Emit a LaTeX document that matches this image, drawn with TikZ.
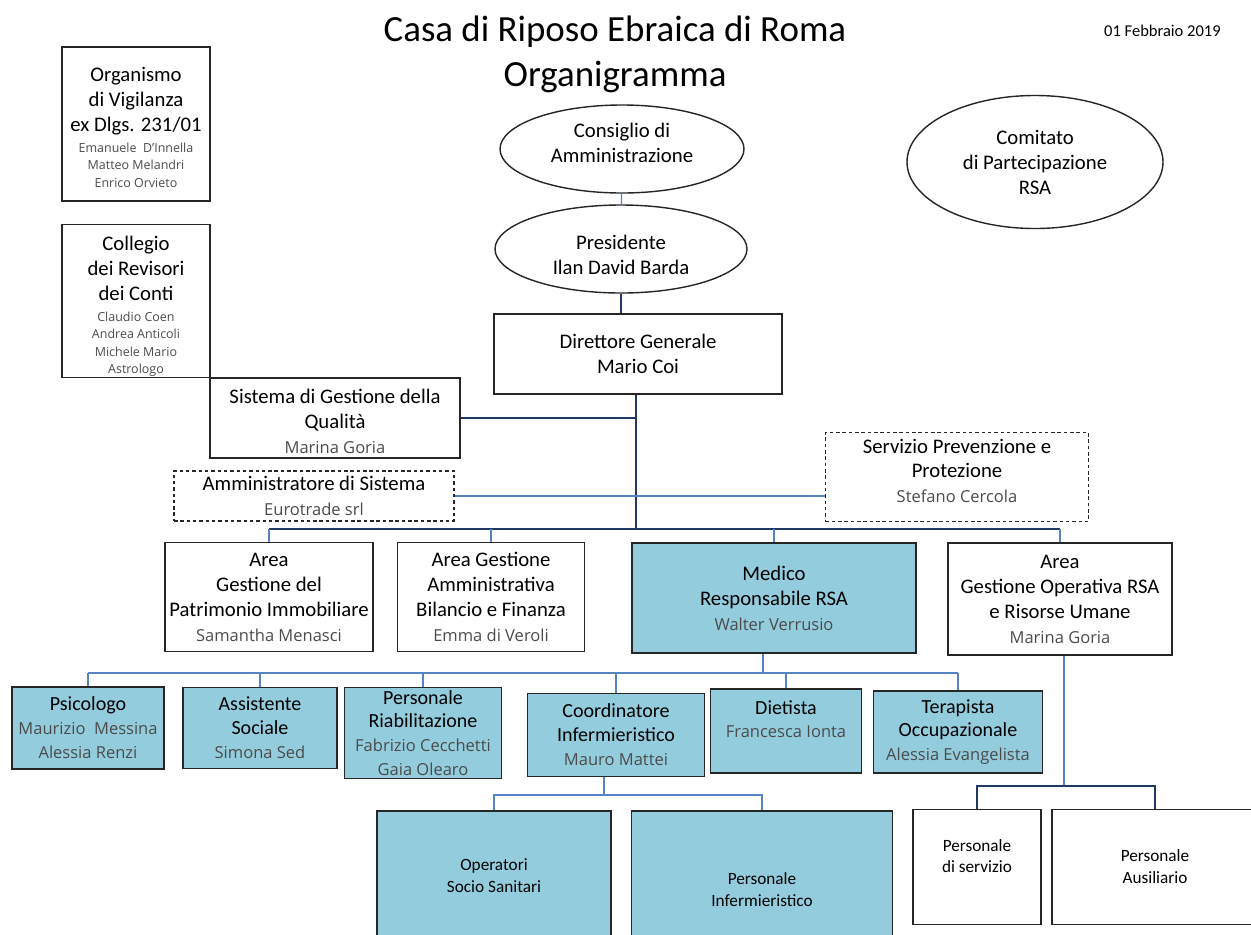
\documentclass[tikz,border=0pt]{standalone}
\usepackage{fontspec}
\setmainfont{Carlito}
\newfontfamily\namefont{Open Sans}
\usetikzlibrary{shapes.geometric, positioning, calc}

\definecolor{staffblue}{RGB}{147,205,221}
\definecolor{linkblue}{RGB}{84,132,196}
\definecolor{linknavy}{RGB}{31,56,100}
\definecolor{namegray}{RGB}{75,75,75}

\newcommand{\pxu}{0.02cm}
\newcommand{\persona}[1]{{\namefont\fontsize{9.4}{13.6}\selectfont\color{namegray}#1}}
\newcommand{\piccolo}[1]{{\namefont\fontsize{7.1}{9.9}\selectfont\color{namegray}#1}}
% vertical nudges for text inside a box
\newcommand{\giu}[1]{\rule{0pt}{#1}}
\newcommand{\su}[1]{\rule[-#1]{0pt}{#1}}

\tikzset{
	dims/.style 2 args={minimum width=#1*\pxu, minimum height=#2*\pxu}
}

\begin{document}
\begin{tikzpicture}[
		x=0.02cm, y=-0.02cm,
		every node/.style={inner sep=0pt, align=center},
		ufficio/.style={draw=black!85, line width=0.8pt, rectangle, font=\fontsize{11.8}{14.2}\selectfont},
		sanitario/.style={ufficio, fill=staffblue, font=\fontsize{11.4}{13.6}\selectfont},
		ovale/.style={ufficio, ellipse},
		esterno/.style={ufficio, dash pattern=on 2pt off 1.6pt},
		collegamento/.style={draw=linkblue, line width=0.7pt},
		tronco/.style={draw=linknavy, line width=0.9pt}
		]
		\useasboundingbox (0,0) rectangle (1251,934);
		
		% Title
		\node[font=\fontsize{21}{25.5}\selectfont] (titolo) at (615,54) {Casa di Riposo Ebraica di Roma\\Organigramma};
		\node[font=\fontsize{9.4}{11}\selectfont, anchor=east] (data) at (1221,31) {01 Febbraio 2019};
		
		% Control bodies
		\node[ufficio, dims={148}{154}] (vigilanza) at (136,124) {\giu{12pt}Organismo\\di Vigilanza\\ex Dlgs. 231/01\\[-2.3pt]\piccolo{Emanuele\ \ D’Innella}\\[-4.3pt]\piccolo{Matteo Melandri}\\[-4.3pt]\piccolo{Enrico Orvieto}};
		\node[ufficio, dims={148}{153}] (revisori) at (136,301) {\giu{14.3pt}Collegio\\dei Revisori\\dei Conti\\[-2.3pt]\piccolo{Claudio Coen}\\[-4.3pt]\piccolo{Andrea Anticoli}\\[-4.3pt]\piccolo{Michele Mario}\\[-4.3pt]\piccolo{Astrologo}};
		
		% Governance
		\node[ovale, dims={244}{88}] (cda) at (622,149) {Consiglio di\\Amministrazione\su{7pt}};
		\node[ovale, dims={252}{88}] (presidente) at (621,249) {\giu{15.4pt}Presidente\\Ilan David Barda};
		\node[ovale, dims={256}{133}] (comitato) at (1035,162) {Comitato\\di Partecipazione\\RSA};
		\node[ufficio, dims={288}{80}] (direttore) at (638,354) {Direttore Generale\\Mario Coi};
		
		% Staff
		\node[ufficio, dims={250}{80}] (qualita) at (335,418) {\giu{12pt}Sistema di Gestione della\\Qualità\\\persona{Marina Goria}};
		\node[esterno, dims={280}{50}] (amministratore) at (314,496) {Amministratore di Sistema\\\persona{Eurotrade srl}};
		\node[esterno, dims={263}{89}] (prevenzione) at (957,477) {Servizio Prevenzione e\\Protezione\\\persona{Stefano Cercola}\su{7pt}};
		
		% Areas
		\node[ufficio, dims={208}{109}] (patrimonio) at (269,597) {Area\\Gestione del\\Patrimonio Immobiliare\\\persona{Samantha Menasci}};
		\node[ufficio, dims={187}{109}] (amministrativa) at (491,597) {Area Gestione\\Amministrativa\\Bilancio e Finanza\\\persona{Emma di Veroli}};
		\node[ufficio, fill=staffblue, dims={284}{110}] (medico) at (774,598) {Medico\\Responsabile RSA\\\persona{Walter Verrusio}};
		\node[ufficio, dims={224}{112}] (operativa) at (1060,599) {Area\\Gestione Operativa RSA\\e Risorse Umane\\\persona{Marina Goria}};
		
		% Health staff
		\node[sanitario, dims={152}{82}] (psicologo) at (88,728) {Psicologo\\\persona{Maurizio\ \ Messina}\\\persona{Alessia Renzi}};
		\node[sanitario, dims={154}{81}] (sociale) at (260,728) {Assistente\\Sociale\\\persona{Simona Sed}};
		\node[sanitario, dims={157}{91}] (riabilitazione) at (423,733) {Personale\\Riabilitazione\\\persona{Fabrizio Cecchetti}\\\persona{Gaia Olearo}};
		\node[sanitario, dims={177}{83}] (coordinatore) at (616,735) {Coordinatore\\Infermieristico\\\persona{Mauro Mattei}};
		\node[sanitario, dims={151}{84}] (dietista) at (786,731) {Dietista\\\persona{Francesca Ionta}\\\mbox{}};
		\node[sanitario, dims={169}{82}] (terapista) at (958,732) {Terapista\\Occupazionale\\\persona{Alessia Evangelista}};
		
		% Bottom row
		\node[sanitario, font=\fontsize{9.8}{12.5}\selectfont, dims={234}{130}] (oss) at (494,876) {Operatori\\Socio Sanitari};
		\node[sanitario, font=\fontsize{9.8}{12.5}\selectfont, dims={261}{158}] (infermieri) at (762,890) {Personale\\Infermieristico};
		\node[ufficio, font=\fontsize{9.8}{12.5}\selectfont, dims={128}{115}] (pservizio) at (977,867) {Personale\\di servizio\\\mbox{}};
		\node[ufficio, font=\fontsize{9.8}{12.5}\selectfont, dims={206}{115}] (ausiliario) at (1155,867) {Personale\\Ausiliario};
		
		% Bus levels
		\coordinate (barra1) at (636,529);
		\coordinate (barra2) at (763,673);
		\coordinate (barra3) at (604,795);
		\coordinate (barra4) at (1064,786);
		
		% Connectors
		\draw[collegamento] (cda) -- (presidente);
		\draw[tronco] (presidente.south) -- (presidente.south |- direttore.north);
		\draw[tronco] (direttore.south -| barra1) -- (barra1);
		\draw[tronco] (qualita.east) -- (qualita.east -| barra1);
		\draw[collegamento] (amministratore.east) -- (amministratore.east -| prevenzione.west);
		
		\draw[tronco] (patrimonio.north |- barra1) -- (operativa.north |- barra1);
		\foreach \n in {patrimonio, amministrativa, medico, operativa}
			\draw[collegamento] (\n.north |- barra1) -- (\n.north);
		
		\draw[collegamento] (medico.south -| barra2) -- (barra2);
		\draw[collegamento] (psicologo.north |- barra2) -- (terapista.north |- barra2);
		\foreach \n in {psicologo, sociale, riabilitazione, coordinatore, dietista, terapista}
			\draw[collegamento] (\n.north |- barra2) -- (\n.north);
		
		\draw[collegamento] (coordinatore.south -| barra3) -- (barra3);
		\draw[collegamento] (oss.north) |- (barra3) -| (infermieri.north);
		
		\draw[collegamento] (operativa.south -| barra4) -- (barra4);
		\draw[tronco] (pservizio.north) |- (barra4) -| (ausiliario.north);
		
	\end{tikzpicture}
\end{document}
